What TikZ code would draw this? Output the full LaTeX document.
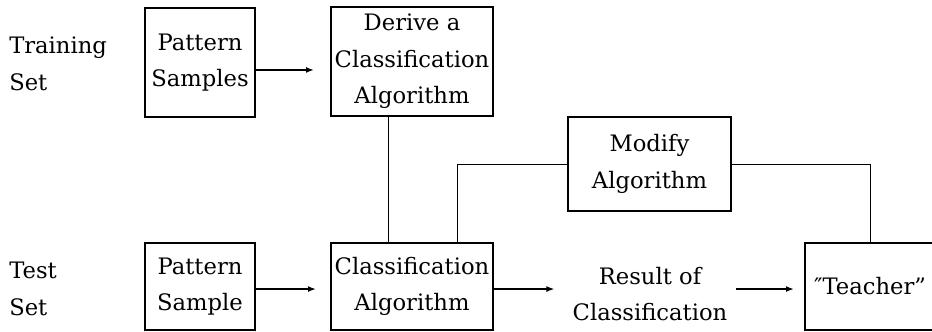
\documentclass[tikz,border=0pt]{standalone}
\usepackage{fontspec}
\setmainfont{DejaVu Serif}
\usetikzlibrary{arrows.meta}

\tikzset{
  lbl/.style={inner sep=0pt, align=center, font=\fontsize{17pt}{27.5pt}\selectfont},
  blk/.style={lbl, draw, line width=1.5pt},
  side/.style={inner sep=0pt, anchor=west, align=left, font=\fontsize{17pt}{27.5pt}\selectfont},
  flow/.style={line width=1.6pt, -{Latex[length=6pt,width=4.5pt]}},
  link/.style={line width=0.6pt},
}

\begin{document}
\begin{tikzpicture}[x=0.75pt, y=-0.75pt]
  \clip (0,0) rectangle (932,332);
  \fill[white] (0,0) rectangle (932,332);

  % row labels
  \node[side] (train) at (9,64) {Training\\Set};
  \node[side] (test)  at (9,289) {Test\\Set};

  % training row
  \node[blk, minimum width=82.5pt, minimum height=81.75pt] (ps) at (200,62.5) {Pattern\\Samples};
  \node[blk, minimum width=121.5pt, minimum height=81.75pt] (der) at (412,61.5) {Derive a\\Classification\\Algorithm};

  % feedback box
  \node[blk, minimum width=122.25pt, minimum height=70.5pt] (mod) at (649.5,164) {Modify\\Algorithm};

  % test row
  \node[blk, minimum width=82.5pt, minimum height=65.25pt] (pt) at (200,286.5) {Pattern\\Sample};
  \node[blk, minimum width=121.5pt, minimum height=65.25pt] (ca) at (412,286.5) {Classification\\Algorithm};
  \node[lbl] (res) at (650,294) {Result of\\Classification};
  \node[blk, minimum width=97.5pt, minimum height=65.25pt] (tea) at (870,286.5) {″Teacher”};

  % arrows
  \draw[flow, shorten >=12pt] ([yshift=-5.6pt]ps.east) -- ([yshift=-5.6pt]ps.east -| der.west);
  \draw[flow, shorten >=10.5pt] ([yshift=-1.9pt]pt.east) -- ([yshift=-1.9pt]pt.east -| ca.west);
  \draw[flow, shorten >=13.5pt] ([yshift=-1.9pt]ca.east) -- ([yshift=-1.9pt]ca.east -| res.west);
  \draw[flow, shorten <=6pt, shorten >=7.5pt] ([yshift=-1.9pt]tea.west -| res.east) -- ([yshift=-1.9pt]tea.west);

  % plain connections
  \draw[link] ([xshift=-18pt]der.south) -- ([xshift=-18pt]ca.north);
  \draw[link] ([xshift=33.75pt]ca.north) |- (mod.west);
  \draw[link] (mod.east) -| (tea.north);
\end{tikzpicture}
\end{document}
